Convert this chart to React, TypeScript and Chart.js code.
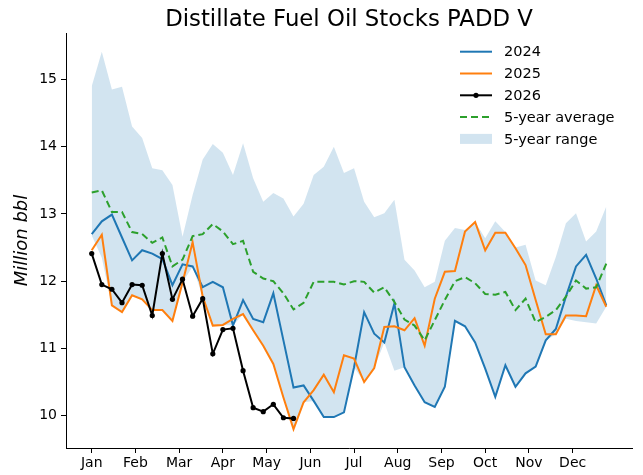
import React, { useEffect, useRef } from 'react';
import { Chart, registerables } from 'chart.js';

Chart.register(...registerables);

// ---- Data (weekly, week 1..52) ----
const weeks = Array.from({ length: 52 }, (_, i) => i + 1);
const monthLabels = ['Jan', 'Feb', 'Mar', 'Apr', 'May', 'Jun', 'Jul', 'Aug', 'Sep', 'Oct', 'Nov', 'Dec'];
const yTickValues = [10, 11, 12, 13, 14, 15];

const series2024 = [12.70, 12.89, 12.99, 12.65, 12.31, 12.46, 12.41, 12.33, 11.94, 12.25, 12.22, 11.91, 11.99, 11.91, 11.34, 11.72, 11.44, 11.39, 11.82, 11.12, 10.42, 10.45, 10.22, 9.98, 9.98, 10.05, 10.72, 11.54, 11.22, 11.09, 11.67, 10.72, 10.45, 10.20, 10.13, 10.43, 11.41, 11.33, 11.09, 10.70, 10.28, 10.75, 10.43, 10.63, 10.73, 11.12, 11.29, 11.77, 12.22, 12.39, 12.04, 11.64];
const series2025 = [12.46, 12.69, 11.64, 11.54, 11.79, 11.73, 11.57, 11.57, 11.41, 11.98, 12.58, 11.77, 11.34, 11.35, 11.44, 11.51, 11.27, 11.04, 10.77, 10.27, 9.80, 10.20, 10.38, 10.61, 10.35, 10.90, 10.85, 10.50, 10.71, 11.32, 11.33, 11.27, 11.45, 11.04, 11.74, 12.14, 12.15, 12.74, 12.88, 12.46, 12.72, 12.72, 12.49, 12.24, 11.72, 11.21, 11.21, 11.49, 11.49, 11.48, 11.94, 11.62];
const series2026 = [12.41, 11.95, 11.88, 11.68, 11.95, 11.94, 11.49, 12.41, 11.73, 12.03, 11.48, 11.74, 10.92, 11.28, 11.30, 10.67, 10.12, 10.06, 10.17, 9.97, 9.96];
const avg5 = [13.32, 13.35, 13.03, 13.03, 12.73, 12.70, 12.57, 12.65, 12.22, 12.32, 12.67, 12.70, 12.85, 12.74, 12.55, 12.60, 12.14, 12.04, 12.00, 11.82, 11.58, 11.68, 11.99, 11.99, 11.99, 11.95, 12.00, 11.99, 11.83, 11.91, 11.69, 11.43, 11.34, 11.12, 11.42, 11.72, 12.00, 12.06, 11.97, 11.81, 11.80, 11.84, 11.57, 11.74, 11.39, 11.47, 11.57, 11.77, 12.01, 11.89, 11.91, 12.26];
const rangeMax = [14.90, 15.41, 14.85, 14.89, 14.30, 14.13, 13.68, 13.65, 13.43, 12.66, 13.28, 13.81, 14.04, 13.91, 13.58, 14.05, 13.53, 13.18, 13.31, 13.23, 12.96, 13.15, 13.58, 13.70, 14.00, 13.61, 13.68, 13.18, 12.95, 13.01, 13.21, 12.32, 12.16, 11.91, 11.99, 12.60, 12.79, 12.76, 12.88, 12.64, 12.89, 12.73, 12.50, 12.54, 12.01, 11.94, 12.36, 12.86, 13.01, 12.59, 12.74, 13.11];
const rangeMin = [12.68, 12.35, 11.64, 11.54, 11.79, 11.73, 11.57, 11.57, 11.41, 11.98, 12.22, 11.77, 11.34, 11.35, 11.34, 11.51, 11.27, 11.04, 10.77, 10.27, 9.80, 10.20, 10.22, 9.98, 9.98, 10.05, 10.72, 10.50, 10.71, 11.09, 10.67, 10.72, 10.45, 10.20, 10.13, 10.43, 11.41, 11.33, 11.09, 10.70, 10.28, 10.75, 10.43, 10.63, 10.73, 11.12, 11.21, 11.44, 11.41, 11.39, 11.37, 11.62];

const titleText = 'Distillate Fuel Oil Stocks PADD V';
const yLabelText = 'Million bbl';

const FONT = '"DejaVu Sans", sans-serif';
const C_BLUE = '#1f77b4';
const C_ORANGE = '#ff7f0e';
const C_GREEN = '#2ca02c';
const C_RANGE = 'rgba(31,119,180,0.2)';

const pts = (vals: number[]) => vals.map((v, i) => ({ x: weeks[i], y: v }));

const decorPlugin = {
  id: 'decor',
  afterDraw(chart: any) {
    const c = chart.ctx as CanvasRenderingContext2D;
    const a = chart.chartArea;
    c.save();
    c.fillStyle = '#000';
    // title
    c.font = `22.8px ${FONT}`;
    c.textAlign = 'center';
    c.textBaseline = 'alphabetic';
    c.fillText(titleText, (a.left + a.right) / 2, 26);
    // y label
    c.save();
    c.translate(22, (a.top + a.bottom) / 2);
    c.rotate(-Math.PI / 2);
    c.font = `italic 18px ${FONT}`;
    c.textAlign = 'center';
    c.textBaseline = 'middle';
    c.fillText(yLabelText, 0, 0);
    c.restore();
    // legend
    const ds = chart.data.datasets;
    const entries = [ds[2], ds[3], ds[4], ds[5], ds[1]];
    const x0 = 460, x1 = 492, tx = 504, y0 = 51.7, dy = 21.8;
    c.font = `14.5px ${FONT}`;
    c.textAlign = 'left';
    c.textBaseline = 'middle';
    entries.forEach((d: any, k: number) => {
      const y = y0 + k * dy;
      if (d.legendPatch) {
        c.fillStyle = d.backgroundColor;
        c.fillRect(x0, y - 5, x1 - x0, 10);
      } else {
        c.strokeStyle = d.borderColor;
        c.lineWidth = d.borderWidth;
        c.setLineDash(d.borderDash || []);
        c.beginPath();
        c.moveTo(x0, y);
        c.lineTo(x1, y);
        c.stroke();
        c.setLineDash([]);
        if (d.pointRadius > 0) {
          c.fillStyle = d.pointBackgroundColor;
          c.beginPath();
          c.arc((x0 + x1) / 2, y, d.pointRadius, 0, Math.PI * 2);
          c.fill();
        }
      }
      c.fillStyle = '#000';
      c.fillText(d.label, tx, y + 1);
    });
    c.restore();
  },
};

export default function App() {
  const ref = useRef<HTMLCanvasElement>(null);
  useEffect(() => {
    const canvas = ref.current;
    if (!canvas) return;
    const chart = new Chart(canvas, {
      type: 'line',
      data: {
        datasets: [
          {
            label: '5-year min',
            data: pts(rangeMin),
            borderWidth: 0,
            pointRadius: 0,
            fill: false,
            order: 10,
          } as any,
          {
            label: '5-year range',
            data: pts(rangeMax),
            borderWidth: 0,
            pointRadius: 0,
            backgroundColor: C_RANGE,
            fill: { target: 0 },
            order: 9,
            legendPatch: true,
          } as any,
          {
            label: '2024',
            data: pts(series2024),
            borderColor: C_BLUE,
            borderWidth: 2,
            pointRadius: 0,
            fill: false,
            order: 3,
          },
          {
            label: '2025',
            data: pts(series2025),
            borderColor: C_ORANGE,
            borderWidth: 2,
            pointRadius: 0,
            fill: false,
            order: 2,
          },
          {
            label: '2026',
            data: pts(series2026),
            borderColor: '#000',
            borderWidth: 2,
            pointRadius: 2.6,
            pointBackgroundColor: '#000',
            pointBorderWidth: 0,
            fill: false,
            order: 1,
          },
          {
            label: '5-year average',
            data: pts(avg5),
            borderColor: C_GREEN,
            borderWidth: 2,
            borderDash: [7, 4],
            pointRadius: 0,
            fill: false,
            order: 0,
          },
        ],
      },
      options: {
        animation: false,
        responsive: false,
        maintainAspectRatio: false,
        layout: { padding: { top: 33, right: 11, left: 0, bottom: 0 } },
        elements: { line: { tension: 0 } },
        plugins: {
          legend: { display: false },
          title: { display: false },
          tooltip: { enabled: false },
        },
        scales: {
          x: {
            type: 'linear',
            min: -1.55,
            max: 54.55,
            afterBuildTicks: (s: any) => {
              s.ticks = monthLabels.map((_, i) => ({ value: 1 + (i * 52) / 12 }));
            },
            afterFit: (s: any) => {
              s.height = 27;
            },
            ticks: {
              autoSkip: false,
              maxRotation: 0,
              padding: 2,
              color: '#000',
              font: { family: FONT, size: 14 },
              callback: (_v: any, i: number) => monthLabels[i],
            },
            grid: { drawOnChartArea: false, drawTicks: true, tickLength: 5, tickColor: '#000', tickWidth: 1 },
            border: { display: true, color: '#000', width: 1 },
          },
          y: {
            type: 'linear',
            min: 9.52,
            max: 15.69,
            afterBuildTicks: (s: any) => {
              s.ticks = yTickValues.map((v) => ({ value: v }));
            },
            afterFit: (s: any) => {
              s.width = 66;
            },
            ticks: {
              padding: 4,
              color: '#000',
              font: { family: FONT, size: 14 },
              callback: (v: any) => String(v),
            },
            grid: { drawOnChartArea: false, drawTicks: true, tickLength: 5, tickColor: '#000', tickWidth: 1 },
            border: { display: true, color: '#000', width: 1 },
          },
        },
      } as any,
      plugins: [decorPlugin],
    });
    return () => chart.destroy();
  }, []);
  return (
    <div style={{ position: 'fixed', left: 0, top: 0, width: 643, height: 475, background: '#fff' }}>
      <canvas ref={ref} width={643} height={475} style={{ display: 'block', width: 643, height: 475 }} />
    </div>
  );
}
